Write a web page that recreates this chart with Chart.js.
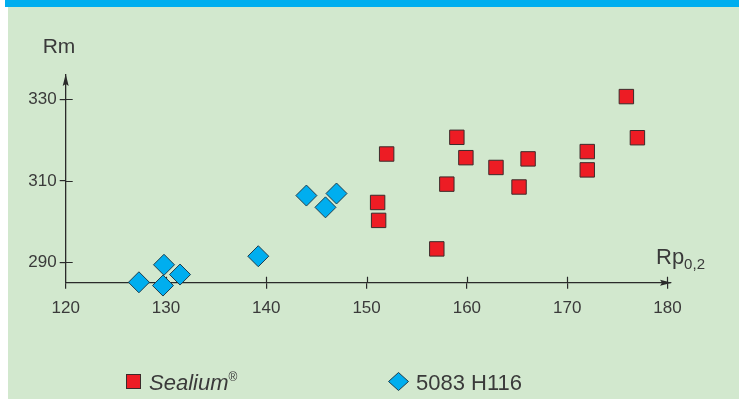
<!DOCTYPE html>
<html>
<head>
<meta charset="utf-8">
<script src="https://cdn.jsdelivr.net/npm/chart.js@4.4.1/dist/chart.umd.min.js"></script>
<style>
  html, body { margin: 0; padding: 0; background: #ffffff; width: 739px; height: 399px; overflow: hidden;
    font-family: "Liberation Sans", Arial, sans-serif; }
  #band { position: absolute; left: 5px; top: 0; width: 734px; height: 7px; background: #00aeef; }
  #panel { position: absolute; left: 8px; top: 7px; width: 731px; height: 392px; background: #d2e8ce; }
  #chart { position: absolute; left: 0; top: 0; }
  .lg-text { position: absolute; top: 372px; font-size: 22px; line-height: 22px; color: #3a3a3a; white-space: nowrap; }
  .lg-text sup { font-size: 12px; vertical-align: 9px; line-height: 0; }
  .lg-square { position: absolute; left: 126px; top: 374px; width: 13px; height: 13px;
    background: #ed1c24; border: 1px solid #3b2b2b; }
  .lg-diamond { position: absolute; left: 387px; top: 371px; }
</style>
</head>
<body>
<div id="band"></div>
<div id="panel"></div>
<canvas id="chart" width="739" height="399"></canvas>

<div class="lg-square"></div>
<div class="lg-text" style="left:149px;"><i>Sealium</i><sup>®</sup></div>
<svg class="lg-diamond" width="24" height="22" viewBox="0 0 24 22">
  <polygon points="11.5,1.5 21.5,10.5 11.5,19.5 1.5,10.5" fill="#00aeef" stroke="#1d3d4d" stroke-width="1"/>
</svg>
<div class="lg-text" style="left:416px;">5083 H116</div>

<script>
// Rp0,2 (x) and Rm (y) for each sample, MPa
const sealiumRp = [175.9, 177.0, 159.0, 152.0, 159.9, 162.9, 166.1, 172.0, 172.0, 165.2, 158.0, 151.1, 151.2, 157.0];
const sealiumRm = [330.7, 320.6, 320.7, 316.6, 315.7, 313.3, 315.4, 317.2, 312.7, 308.5, 309.2, 304.7, 300.3, 293.3];

const alloyRp = [127.3, 129.8, 129.7, 131.4, 139.2, 144.0, 145.9, 147.0];
const alloyRm = [285.1, 289.4, 284.3, 287.0, 291.5, 306.4, 303.5, 306.9];

// tick values shown on the axes
const xTicks = [120, 130, 140, 150, 160, 170, 180];
const yTicks = [290, 310, 330];

const AXIS_COLOR = '#2a2a2a';
const TEXT_COLOR = '#3a3a3a';

const toPoints = (xs, ys) => xs.map((v, i) => ({ x: v, y: ys[i] }));

// inner half of the tick marks, arrowheads and axis names
const axisExtras = {
  id: 'axisExtras',
  beforeDatasetsDraw(chart) {
    const { ctx, chartArea: { left, right, top, bottom }, scales: { x, y } } = chart;
    ctx.save();
    ctx.strokeStyle = AXIS_COLOR;
    ctx.lineWidth = 1.2;
    ctx.beginPath();
    xTicks.slice(1).forEach(v => {
      const px = Math.round(x.getPixelForValue(v)) + 0.5;
      ctx.moveTo(px, bottom);
      ctx.lineTo(px, bottom - 6);
    });
    yTicks.forEach(v => {
      const py = Math.round(y.getPixelForValue(v)) + 0.5;
      ctx.moveTo(left, py);
      ctx.lineTo(left + 7, py);
    });
    ctx.stroke();

    ctx.fillStyle = AXIS_COLOR;
    // up arrow on the Rm axis
    ctx.beginPath();
    ctx.moveTo(left, top - 1);
    ctx.lineTo(left - 3, top + 11);
    ctx.lineTo(left, top + 9);
    ctx.lineTo(left + 3, top + 11);
    ctx.closePath();
    ctx.fill();
    // right arrow on the Rp0,2 axis
    ctx.beginPath();
    ctx.moveTo(right + 1, bottom);
    ctx.lineTo(right - 11, bottom - 3);
    ctx.lineTo(right - 9, bottom);
    ctx.lineTo(right - 11, bottom + 3);
    ctx.closePath();
    ctx.fill();

    // axis names
    ctx.fillStyle = TEXT_COLOR;
    ctx.textBaseline = 'alphabetic';
    ctx.textAlign = 'left';
    ctx.font = '21px "Liberation Sans", Arial, sans-serif';
    ctx.fillText('Rm', left - 23, top - 22);
    ctx.font = '22px "Liberation Sans", Arial, sans-serif';
    ctx.fillText('Rp', right - 15, bottom - 19);
    const w = ctx.measureText('Rp').width;
    ctx.font = '15px "Liberation Sans", Arial, sans-serif';
    ctx.fillText('0,2', right - 15 + w, bottom - 14);
    ctx.restore();
  }
};

new Chart(document.getElementById('chart'), {
  type: 'scatter',
  data: {
    datasets: [
      {
        label: 'Sealium®',
        data: toPoints(sealiumRp, sealiumRm),
        pointStyle: 'rect',
        pointRadius: 10.2,
        pointHoverRadius: 10.2,
        backgroundColor: '#ed1c24',
        borderColor: '#3b2b2b',
        borderWidth: 1,
        clip: false
      },
      {
        label: '5083 H116',
        data: toPoints(alloyRp, alloyRm),
        pointStyle: 'rectRot',
        pointRadius: 10.5,
        pointHoverRadius: 10.5,
        backgroundColor: '#00aeef',
        borderColor: '#1d3d4d',
        borderWidth: 1,
        clip: false
      }
    ]
  },
  options: {
    responsive: false,
    animation: false,
    devicePixelRatio: 1,
    layout: { padding: { left: 0, top: 75, right: 68, bottom: 0 } },
    plugins: { legend: { display: false }, tooltip: { enabled: false } },
    scales: {
      x: {
        type: 'linear',
        min: 120,
        max: 180.35,
        afterBuildTicks: s => { s.ticks = xTicks.map(v => ({ value: v })); },
        afterFit: s => { s.height = 116.3; },
        grid: { display: true, drawOnChartArea: false, drawTicks: true, tickLength: 6, tickColor: AXIS_COLOR, lineWidth: 1.2 },
        border: { display: true, color: AXIS_COLOR, width: 1.3 },
        ticks: { color: TEXT_COLOR, padding: 9, font: { family: '"Liberation Sans", Arial, sans-serif', size: 17 } }
      },
      y: {
        type: 'linear',
        min: 285,
        max: 336,
        afterBuildTicks: s => { s.ticks = yTicks.map(v => ({ value: v })); },
        afterFit: s => { s.width = 65.7; },
        grid: { display: true, drawOnChartArea: false, drawTicks: true, tickLength: 6, tickColor: AXIS_COLOR, lineWidth: 1.2 },
        border: { display: true, color: AXIS_COLOR, width: 1.3 },
        ticks: { color: TEXT_COLOR, padding: 3, font: { family: '"Liberation Sans", Arial, sans-serif', size: 17 } }
      }
    }
  },
  plugins: [axisExtras]
});
</script>
</body>
</html>
